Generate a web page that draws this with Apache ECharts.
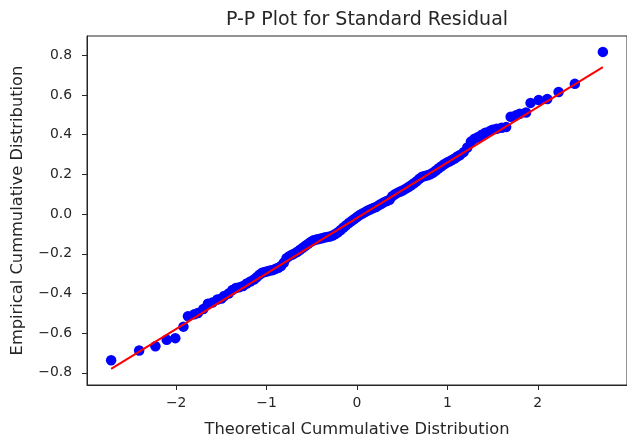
<!DOCTYPE html>
<html>
<head>
<meta charset="utf-8">
<script src="https://cdn.jsdelivr.net/npm/echarts@6/dist/echarts.min.js"></script>
<style>
html,body{margin:0;padding:0;background:#fff;}
#chart{width:627px;height:443px;}
</style>
</head>
<body>
<div id="chart"></div>
<script>
const titleText = "P-P Plot for Standard Residual";
const xLabel = "Theoretical Cummulative Distribution";
const yLabel = "Empirical Cummulative Distribution";

const theoretical = [
  -2.72, -2.41, -2.23, -2.105, -2.01, -1.92, -1.87, -1.80, -1.76, -1.70,
  -1.65, -1.60, -1.545, -1.50, -1.47, -1.42, -1.38, -1.34, -1.30, -1.26,
  -1.22, -1.18, -1.14, -1.11, -1.08, -1.05, -1.02, -0.99, -0.96, -0.93,
  -0.90, -0.87, -0.84, -0.81, -0.78, -0.75, -0.72, -0.69, -0.66, -0.63,
  -0.60, -0.57, -0.54, -0.51, -0.48, -0.45, -0.42, -0.39, -0.36, -0.33,
  -0.30, -0.27, -0.24, -0.21, -0.18, -0.15, -0.12, -0.09, -0.06, -0.03,
  0.00, 0.03, 0.06, 0.09, 0.12, 0.15, 0.18, 0.21, 0.24, 0.27,
  0.30, 0.33, 0.36, 0.39, 0.42, 0.45, 0.48, 0.51, 0.54, 0.57,
  0.60, 0.63, 0.66, 0.69, 0.72, 0.75, 0.78, 0.81, 0.84, 0.87,
  0.90, 0.93, 0.96, 0.99, 1.02, 1.05, 1.08, 1.11, 1.14, 1.18,
  1.22, 1.26, 1.30, 1.34, 1.38, 1.42, 1.47, 1.50, 1.545, 1.60,
  1.65, 1.70, 1.76, 1.80, 1.87, 1.92, 2.01, 2.105, 2.23, 2.41,
  2.72
];
const empirical = [
  -0.736, -0.687, -0.666, -0.633, -0.625, -0.567, -0.515, -0.505, -0.498, -0.478,
  -0.452, -0.445, -0.430, -0.425, -0.413, -0.400, -0.383, -0.372, -0.368, -0.362,
  -0.350, -0.340, -0.330, -0.318, -0.306, -0.296, -0.292, -0.288, -0.284, -0.282,
  -0.276, -0.270, -0.262, -0.245, -0.222, -0.212, -0.205, -0.198, -0.190, -0.180,
  -0.170, -0.160, -0.150, -0.140, -0.132, -0.128, -0.125, -0.122, -0.118, -0.115,
  -0.113, -0.108, -0.100, -0.092, -0.080, -0.068, -0.056, -0.045, -0.035, -0.025,
  -0.015, -0.005, 0.003, 0.010, 0.018, 0.024, 0.030, 0.036, 0.044, 0.052,
  0.060, 0.066, 0.072, 0.090, 0.100, 0.108, 0.114, 0.120, 0.128, 0.136,
  0.145, 0.155, 0.165, 0.178, 0.188, 0.192, 0.196, 0.200, 0.208, 0.218,
  0.230, 0.240, 0.250, 0.258, 0.265, 0.272, 0.280, 0.290, 0.298, 0.312,
  0.335, 0.365, 0.380, 0.388, 0.400, 0.410, 0.418, 0.425, 0.430, 0.435,
  0.438, 0.490, 0.498, 0.505, 0.512, 0.560, 0.575, 0.580, 0.615, 0.656,
  0.817
];
const fitX = [-2.72, 2.72];
const fitY = [-0.780, 0.740];

const xTicks = [-2, -1, 0, 1, 2];
const yTicks = [-0.8, -0.6, -0.4, -0.2, 0.0, 0.2, 0.4, 0.6, 0.8];

const points = theoretical.map((x, i) => [x, empirical[i]]);
const fitLine = fitX.map((x, i) => [x, fitY[i]]);

const FONT = "DejaVu Sans";
const TXT = "#262626";
const minus = s => s.replace('-', '\u2212');

const chart = echarts.init(document.getElementById('chart'), null, {renderer: 'canvas'});
chart.setOption({
  animation: false,
  backgroundColor: '#ffffff',
  title: {
    text: titleText,
    left: 362,
    top: 6,
    textAlign: 'center',
    textStyle: {fontFamily: FONT, fontSize: 19, fontWeight: 'normal', color: TXT}
  },
  grid: {
    left: 87, top: 36, width: 551, height: 357,
    show: true, borderColor: '#262626', borderWidth: 1, backgroundColor: 'transparent'
  },
  xAxis: {
    type: 'value',
    min: -2.987, max: 2.987,
    name: xLabel,
    nameLocation: 'middle',
    nameGap: 37,
    nameTextStyle: {fontFamily: FONT, fontSize: 16.3, color: TXT},
    axisLine: {show: true, onZero: false, lineStyle: {color: '#262626', width: 1}},
    axisTick: {show: true, length: 5, lineStyle: {color: '#262626'}, customValues: xTicks},
    axisLabel: {
      fontFamily: FONT, fontSize: 13.9, color: TXT, margin: 11,
      customValues: xTicks,
      formatter: v => minus(String(Math.round(v)))
    },
    splitLine: {show: false}
  },
  yAxis: {
    type: 'value',
    min: -0.861, max: 0.897,
    name: yLabel,
    nameLocation: 'middle',
    nameGap: 61,
    nameTextStyle: {fontFamily: FONT, fontSize: 16.3, color: TXT},
    axisLine: {show: true, onZero: false, lineStyle: {color: '#262626', width: 1}},
    axisTick: {show: true, length: 5, lineStyle: {color: '#262626'}, customValues: yTicks},
    axisLabel: {
      fontFamily: FONT, fontSize: 13.9, color: TXT, margin: 15,
      customValues: yTicks,
      formatter: v => minus(v.toFixed(1))
    },
    splitLine: {show: false}
  },
  series: [
    {
      type: 'scatter',
      data: points,
      symbol: 'circle',
      symbolSize: 10.5,
      itemStyle: {color: '#0000ff', opacity: 1},
      z: 2
    },
    {
      type: 'line',
      data: fitLine,
      symbol: 'none',
      lineStyle: {color: '#ff0000', width: 2},
      z: 3
    }
  ]
});
</script>
</body>
</html>
